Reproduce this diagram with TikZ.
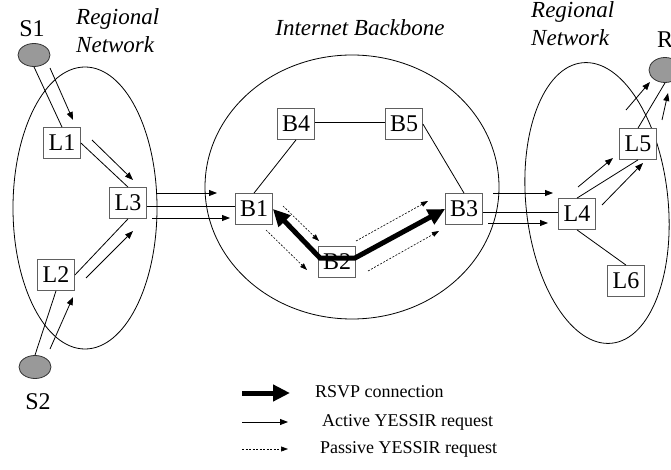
\documentclass[tikz,border=0pt]{standalone}
\usepackage{fontspec}
\setmainfont{Liberation Serif}
\usetikzlibrary{arrows.meta,calc,shapes.geometric}
\definecolor{boxgray}{HTML}{606060}
\definecolor{hostgray}{HTML}{999999}
\begin{document}
\begin{tikzpicture}[x=1pt,y=-1pt,
  box/.style={draw=boxgray, fill=white, line width=0.8pt, minimum width=37pt, minimum height=31pt, inner sep=0pt, font=\fontsize{24}{28}\selectfont},
  host/.style={ellipse, draw=black!80, fill=hostgray, line width=0.8pt, minimum width=32pt, minimum height=23pt, inner sep=0pt},
  lbl/.style={inner sep=0pt, font=\fontsize{24}{28}\selectfont},
  region/.style={inner sep=0pt, align=left, font=\itshape\fontsize{23}{28}\selectfont},
  legtext/.style={inner sep=0pt, anchor=west, font=\fontsize{18}{22}\selectfont},
  cloud/.style={line width=0.8pt},
  link/.style={line width=0.8pt},
  req/.style={line width=0.8pt, -{Triangle[length=8pt,width=6pt]}},
  passive/.style={line width=0.6pt, dash pattern=on 2pt off 1.5pt, -{Triangle[length=7pt,width=5pt]}},
  rsvp/.style={line width=5pt, {Triangle[length=17pt,width=16pt]}-{Triangle[length=17pt,width=16pt]}},
  rsvpone/.style={line width=5pt, -{Triangle[length=17pt,width=16pt]}}
]
\useasboundingbox (0,0) rectangle (671,470);

% regions
\draw[cloud] (85,208) ellipse [x radius=72pt, y radius=141pt];
\draw[cloud] (352,187) ellipse [x radius=147pt, y radius=132pt];
\draw[cloud, rotate around={6:(597,203)}] (597,203) ellipse [x radius=71pt, y radius=141pt];

% region labels
\node[region, anchor=north west] (rl) at (76,8) {Regional\\Network};
\node[region] (ib) at (360,28) {Internet Backbone};
\node[region, anchor=north west] (rr) at (531,1) {Regional\\Network};

% hosts
\node[host] (S1) at (34,55) {};
\node[host] (S2) at (35,367) {};
\node[host, minimum height=25pt] (R) at (665,70) {};
\node[lbl] (S1l) at (32,29) {S1};
\node[lbl] (S2l) at (38,402) {S2};
\node[lbl] (Rl) at (665,40) {R};

% routers
\node[box] (L1) at (62,143) {L1};
\node[box] (L2) at (56,275) {L2};
\node[box] (L3) at (128,203) {L3};
\node[box] (B1) at (254,209) {B1};
\node[box] (B2) at (337,262) {B2};
\node[box] (B3) at (464,209) {B3};
\node[box] (B4) at (296,124) {B4};
\node[box] (B5) at (404,124) {B5};
\node[box] (L4) at (577,214) {L4};
\node[box] (L5) at (638,144) {L5};
\node[box] (L6) at (626,281) {L6};

% links
\draw[link] (S1.south) -- (L1.north);
\draw[link] (L1.east) -- (L3.north);
\draw[link] (S2.north) -- (L2.south);
\draw[link] (L2.east) -- (L3.south);
\draw[link] ($(L3.east)+(0,3)$) -- ($(B1.west)+(0,-3)$);
\draw[link] (B4.south) -- (B1.north);
\draw[link] ($(B4.east)+(0,-2)$) -- ($(B5.west)+(0,-2)$);
\draw[link] (B5.east) -- (B3.north);
\draw[link] ($(B3.east)+(0,3)$) -- ($(L4.west)+(0,-2)$);
\draw[link] (L4.north) -- (L5.south);
\draw[link] (L4.south) -- (L6.north);
\draw[link] (L5.north) -- (R.south);

% active requests
\coordinate (a1s) at (50,68);   \coordinate (a1e) at (73,120);
\coordinate (a2s) at (92,140);  \coordinate (a2e) at (133,180);
\coordinate (a3s) at (86,278);  \coordinate (a3e) at (133,231);
\coordinate (a4s) at (50,349);  \coordinate (a4e) at (73,297);
\coordinate (a5s) at (157,193); \coordinate (a5e) at (217,193);
\coordinate (a6s) at (152,218); \coordinate (a6e) at (230,218);
\coordinate (a7s) at (493,193); \coordinate (a7e) at (553,193);
\coordinate (a8s) at (488,223); \coordinate (a8e) at (548,223);
\coordinate (a9s) at (578,187); \coordinate (a9e) at (613,158);
\coordinate (a10s) at (602,205); \coordinate (a10e) at (643,163);
\coordinate (a11s) at (626,110); \coordinate (a11e) at (650,82);
\coordinate (a12s) at (662,120); \coordinate (a12e) at (668,93);
\foreach \i in {1,...,12} { \draw[req] (a\i s) -- (a\i e); }

% passive requests
\coordinate (d1s) at (283,206); \coordinate (d1e) at (319,241);
\coordinate (d2s) at (266,230); \coordinate (d2e) at (307,270);
\coordinate (d3s) at (356,241); \coordinate (d3e) at (428,201);
\coordinate (d4s) at (368,271); \coordinate (d4e) at (439,231);
\foreach \i in {1,...,4} { \draw[passive] (d\i s) -- (d\i e); }

% RSVP connection
\coordinate (b2l) at (320,258);
\coordinate (b2r) at (355,258);
\draw[rsvp] (B1.east) -- (b2l) -- (b2r) -- (B3.west);

% legend
\coordinate (g1s) at (242,393); \coordinate (g1e) at (290,393);
\coordinate (g2s) at (242,422); \coordinate (g2e) at (288,422);
\coordinate (g3s) at (242,449); \coordinate (g3e) at (288,449);
\draw[rsvpone] (g1s) -- (g1e);
\draw[req] (g2s) -- (g2e);
\draw[passive] (g3s) -- (g3e);
\node[legtext] (t1) at (315,392) {RSVP connection};
\node[legtext] (t2) at (322,422) {Active YESSIR request};
\node[legtext] (t3) at (320,449) {Passive YESSIR request};
\end{tikzpicture}
\end{document}
